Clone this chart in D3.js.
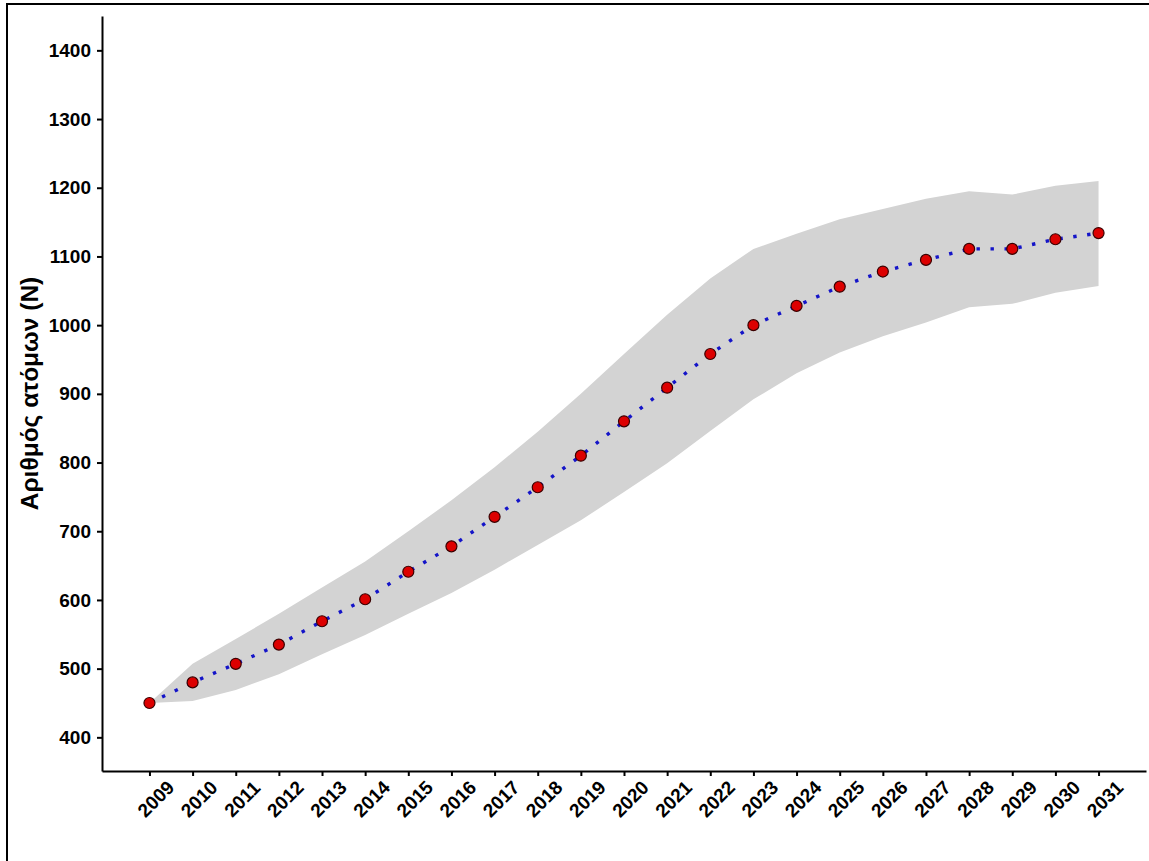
<!DOCTYPE html>
<html lang="el">
<head>
    <meta charset="UTF-8">
    <title>Αριθμός ατόμων (N)</title>
    <script src="https://d3js.org/d3.v7.min.js"></script>
    <style>
        body {
            margin: 0;
            padding: 0;
            background-color: white;
        }

        #chart {
            display: block;
        }

        .axis path,
        .axis line {
            stroke: #000;
            stroke-width: 2px;
        }

        .axis text {
            font-family: "Liberation Sans", Arial, sans-serif;
            font-weight: bold;
            font-size: 19px;
            fill: #000;
        }

        .y-title {
            font-family: "Liberation Sans", Arial, sans-serif;
            font-weight: bold;
            font-size: 24.5px;
        }
    </style>
</head>
<body>
    <svg id="chart"></svg>

    <script>
        // Data
        const years = [2009, 2010, 2011, 2012, 2013, 2014, 2015, 2016, 2017, 2018, 2019, 2020,
                       2021, 2022, 2023, 2024, 2025, 2026, 2027, 2028, 2029, 2030, 2031];
        const estimate = [450, 480, 507, 535, 569, 601, 641, 678, 721, 764, 810, 860,
                          909, 958, 1000, 1028, 1056, 1078, 1095, 1111, 1111, 1125, 1134];
        const upper = [450, 507, 543, 580, 618, 656, 700, 745, 793, 845, 900, 958,
                       1015, 1068, 1111, 1133, 1154, 1169, 1184, 1195, 1190, 1203, 1210];
        const lower = [450, 453, 469, 492, 521, 549, 580, 610, 644, 680, 716, 757,
                       799, 846, 892, 930, 960, 984, 1004, 1026, 1031, 1047, 1057];
        const yTicks = [400, 500, 600, 700, 800, 900, 1000, 1100, 1200, 1300, 1400];

        const width = 1149;
        const height = 861;

        const svg = d3.select("#chart")
            .attr("width", width)
            .attr("height", height);

        // Outer frame (runs off the right and bottom edges)
        svg.append("rect")
            .attr("x", 7)
            .attr("y", 4)
            .attr("width", 1200)
            .attr("height", 900)
            .attr("fill", "none")
            .attr("stroke", "#000")
            .attr("stroke-width", 2);

        const x = d3.scaleLinear().domain([2007.9, 2032.1]).range([102, 1146]);
        const y = d3.scaleLinear().domain([351, 1450]).range([771, 16]);

        const rows = years.map((yr, i) => ({
            year: yr, value: estimate[i], lo: lower[i], hi: upper[i]
        }));

        // Confidence band
        const area = d3.area()
            .x(d => x(d.year))
            .y0(d => y(d.lo))
            .y1(d => y(d.hi));

        svg.append("path")
            .datum(rows)
            .attr("d", area)
            .attr("fill", "#d3d3d3");

        // Dotted trend line
        const line = d3.line()
            .x(d => x(d.year))
            .y(d => y(d.value));

        svg.append("path")
            .datum(rows)
            .attr("d", line)
            .attr("fill", "none")
            .attr("stroke", "#1414c8")
            .attr("stroke-width", 3.4)
            .attr("stroke-dasharray", "3.4,10.6");

        // Points
        svg.append("g")
            .selectAll("circle")
            .data(rows)
            .enter().append("circle")
            .attr("cx", d => x(d.year))
            .attr("cy", d => y(d.value))
            .attr("r", 5.5)
            .attr("fill", "#dd0000")
            .attr("stroke", "#3a0000")
            .attr("stroke-width", 1.2);

        // Y axis
        svg.append("g")
            .attr("class", "axis")
            .attr("transform", "translate(102,0)")
            .call(d3.axisLeft(y).tickValues(yTicks).tickFormat(d3.format("d"))
                .tickSize(5).tickSizeOuter(0).tickPadding(6));

        // X axis
        const xAxis = svg.append("g")
            .attr("class", "axis")
            .attr("transform", "translate(0,771)")
            .call(d3.axisBottom(x).tickValues(years).tickFormat(d3.format("d"))
                .tickSize(5).tickSizeOuter(0));

        xAxis.selectAll("text")
            .attr("text-anchor", "middle")
            .attr("dominant-baseline", "central")
            .attr("y", 0)
            .attr("dy", 0)
            .attr("transform", "translate(6,28) rotate(-45)");

        // Y title
        svg.append("text")
            .attr("class", "y-title")
            .attr("transform", `translate(38,${(16 + 771) / 2}) rotate(-90)`)
            .attr("text-anchor", "middle")
            .text("Αριθμός ατόμων (N)");
    </script>
</body>
</html>
